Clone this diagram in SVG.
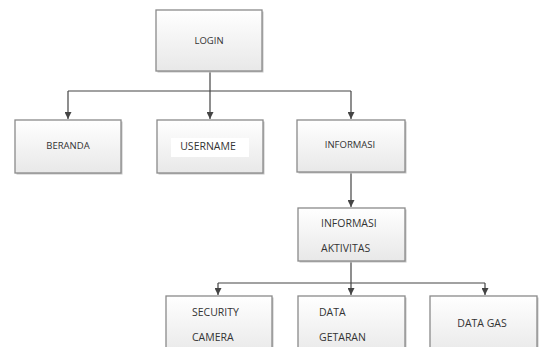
<svg xmlns="http://www.w3.org/2000/svg" width="539" height="347" viewBox="0 0 539 347">
<style>
.box{fill:url(#g);stroke:#8a8a8a;stroke-width:1.3}
.sh{fill:#c4c4c4}
.t{font-family:"Open Sans","Liberation Sans",sans-serif;font-size:9.5px;fill:#333}
.t2{font-family:"Open Sans","Liberation Sans",sans-serif;font-size:10.5px;fill:#333}
.c{fill:none;stroke:#444;stroke-width:1.2}
</style>
<defs>
<linearGradient id="g" x1="0" y1="0" x2="0" y2="1">
<stop offset="0" stop-color="#ffffff"/>
<stop offset="1" stop-color="#e8e8e8"/>
</linearGradient>
<marker id="a" viewBox="0 0 10 10" refX="10" refY="5" markerWidth="7" markerHeight="7" markerUnits="userSpaceOnUse" orient="auto">
<path d="M0,0L10,5L0,10z" fill="#444"/>
</marker>
</defs>
<g id="connectors">
<path class="c" d="M210,72V91"/>
<path class="c" d="M68,91H351"/>
<path class="c" d="M68,91V119" marker-end="url(#a)"/>
<path class="c" d="M210,91V119" marker-end="url(#a)"/>
<path class="c" d="M351,91V119" marker-end="url(#a)"/>
<path class="c" d="M351,172V207" marker-end="url(#a)"/>
<path class="c" d="M351,261V283"/>
<path class="c" d="M218,283H485"/>
<path class="c" d="M218,283V295" marker-end="url(#a)"/>
<path class="c" d="M351,283V295" marker-end="url(#a)"/>
<path class="c" d="M485,283V295" marker-end="url(#a)"/>
</g>
<g id="login">
<rect class="sh" x="157.5" y="11.5" width="106" height="61"/>
<rect class="box" x="156" y="10" width="106" height="61"/>
<text class="t" x="209" y="44" text-anchor="middle">LOGIN</text>
</g>
<g id="beranda">
<rect class="sh" x="16.5" y="121.5" width="106" height="53"/>
<rect class="box" x="15" y="120" width="106" height="53"/>
<text class="t" x="68" y="149" text-anchor="middle">BERANDA</text>
</g>
<g id="username">
<rect class="sh" x="158.5" y="121.5" width="106" height="53"/>
<rect class="box" x="157" y="120" width="106" height="53"/>
<rect x="171" y="138" width="78" height="19" fill="#fff"/>
<text class="t2" x="208" y="150" text-anchor="middle">USERNAME</text>
</g>
<g id="informasi">
<rect class="sh" x="298.5" y="121.5" width="108" height="52"/>
<rect class="box" x="297" y="120" width="108" height="52"/>
<text class="t" x="350" y="148" text-anchor="middle">INFORMASI</text>
</g>
<g id="informasi-aktivitas">
<rect class="sh" x="299.5" y="209.5" width="107" height="53"/>
<rect class="box" x="298" y="208" width="107" height="53"/>
<text class="t2" x="321" y="227">INFORMASI</text>
<text class="t2" x="321" y="252">AKTIVITAS</text>
</g>
<g id="security-camera">
<rect class="sh" x="167.5" y="297.5" width="106" height="60"/>
<rect class="box" x="166" y="296" width="106" height="60"/>
<text class="t2" x="192" y="316">SECURITY</text>
<text class="t2" x="192" y="341">CAMERA</text>
</g>
<g id="data-getaran">
<rect class="sh" x="299.5" y="297.5" width="107" height="60"/>
<rect class="box" x="298" y="296" width="107" height="60"/>
<text class="t2" x="319" y="316">DATA</text>
<text class="t2" x="319" y="341">GETARAN</text>
</g>
<g id="data-gas">
<rect class="sh" x="431.5" y="297.5" width="107" height="60"/>
<rect class="box" x="430" y="296" width="107" height="60"/>
<text class="t2" x="482" y="327" text-anchor="middle">DATA GAS</text>
</g>
</svg>
